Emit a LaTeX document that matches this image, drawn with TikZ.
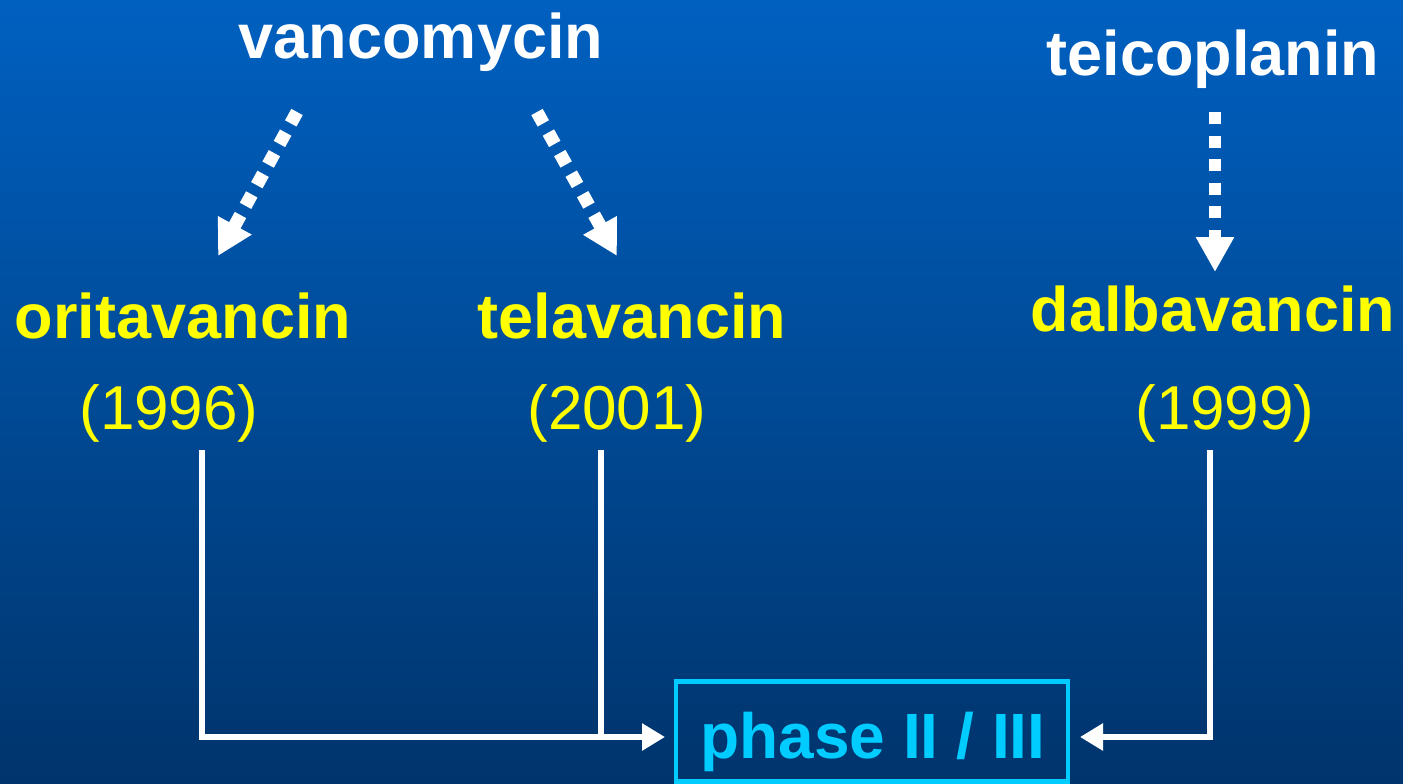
\documentclass[tikz,border=0pt]{standalone}
\usepackage{fontspec}
\setmainfont{Liberation Sans}
\usetikzlibrary{arrows.meta}
\definecolor{bgtop}{RGB}{0,96,192}
\definecolor{bgbot}{RGB}{0,52,108}
\definecolor{ylw}{RGB}{255,255,0}
\definecolor{cyn}{RGB}{0,204,255}
\tikzset{
  whitelbl/.style={anchor=base,text=white,font=\bfseries\fontsize{63}{70}\selectfont,inner sep=0pt},
  namelbl/.style={anchor=base,text=ylw,font=\bfseries\fontsize{63}{70}\selectfont,inner sep=0pt},
  yearlbl/.style={anchor=base,text=ylw,font=\fontsize{62}{70}\selectfont,inner sep=0pt},
  dotarrow/.style={draw=white,line width=13pt,dash pattern=on 13pt off 10.5pt,-{Triangle[length=35pt,width=36pt]}},
  solidline/.style={draw=white,line width=6pt},
  solidarrow/.style={draw=white,line width=6pt,-{Triangle[length=23pt,width=26pt]}},
  phasebox/.style={draw=cyn,line width=4.5pt,minimum width=392pt,minimum height=100pt,inner sep=0pt}
}
\begin{document}
\begin{tikzpicture}[x=1pt,y=-1pt]
\useasboundingbox (0,0) rectangle (1403,784);
\shade[top color=bgtop,bottom color=bgbot] (0,0) rectangle (1403,784);
% labels
\node[whitelbl] (vanco) at (421,59) {vancomycin};
\node[whitelbl] (teico) at (1213,76) {teicoplanin};
\node[namelbl] (orita) at (183,338) {oritavancin};
\node[namelbl] (tela) at (632,338) {telavancin};
\node[namelbl] (dalba) at (1213,331) {dalbavancin};
\node[yearlbl] (y1) at (169,429) {(1996)};
\node[yearlbl] (y2) at (617,429) {(2001)};
\node[yearlbl] (y3) at (1225,429) {(1999)};
\node[phasebox] (phase) at (872,731.5) {};
\node[anchor=base,text=cyn,font=\bfseries\fontsize{64}{70}\selectfont,inner sep=0pt] (phasetxt) at (873,758) {phase II / III};
% dotted arrows
\coordinate (a1s) at (297,112);
\coordinate (a1e) at (218,256);
\coordinate (a2s) at (537,112);
\coordinate (a2e) at (617,256);
\coordinate (a3s) at (1215,112);
\coordinate (a3e) at (1215,272);
\draw[dotarrow] (a1s) -- (a1e);
\draw[dotarrow] (a2s) -- (a2e);
\draw[dotarrow,line width=12pt,dash pattern=on 12pt off 11.5pt] (a3s) -- (a3e);
% solid connectors
\coordinate (l1s) at (202,450);
\coordinate (l1c) at (202,737);
\coordinate (l2s) at (601,450);
\coordinate (l2c) at (601,737);
\coordinate (l3s) at (1210,450);
\coordinate (l3c) at (1210,737);
\coordinate (t1) at (665,737);
\coordinate (t2) at (1080,737);
\draw[solidline] (l2s) -- (l2c);
\draw[solidarrow] (l1s) -- (l1c) -- (t1);
\draw[solidarrow] (l3s) -- (l3c) -- (t2);
\end{tikzpicture}
\end{document}
